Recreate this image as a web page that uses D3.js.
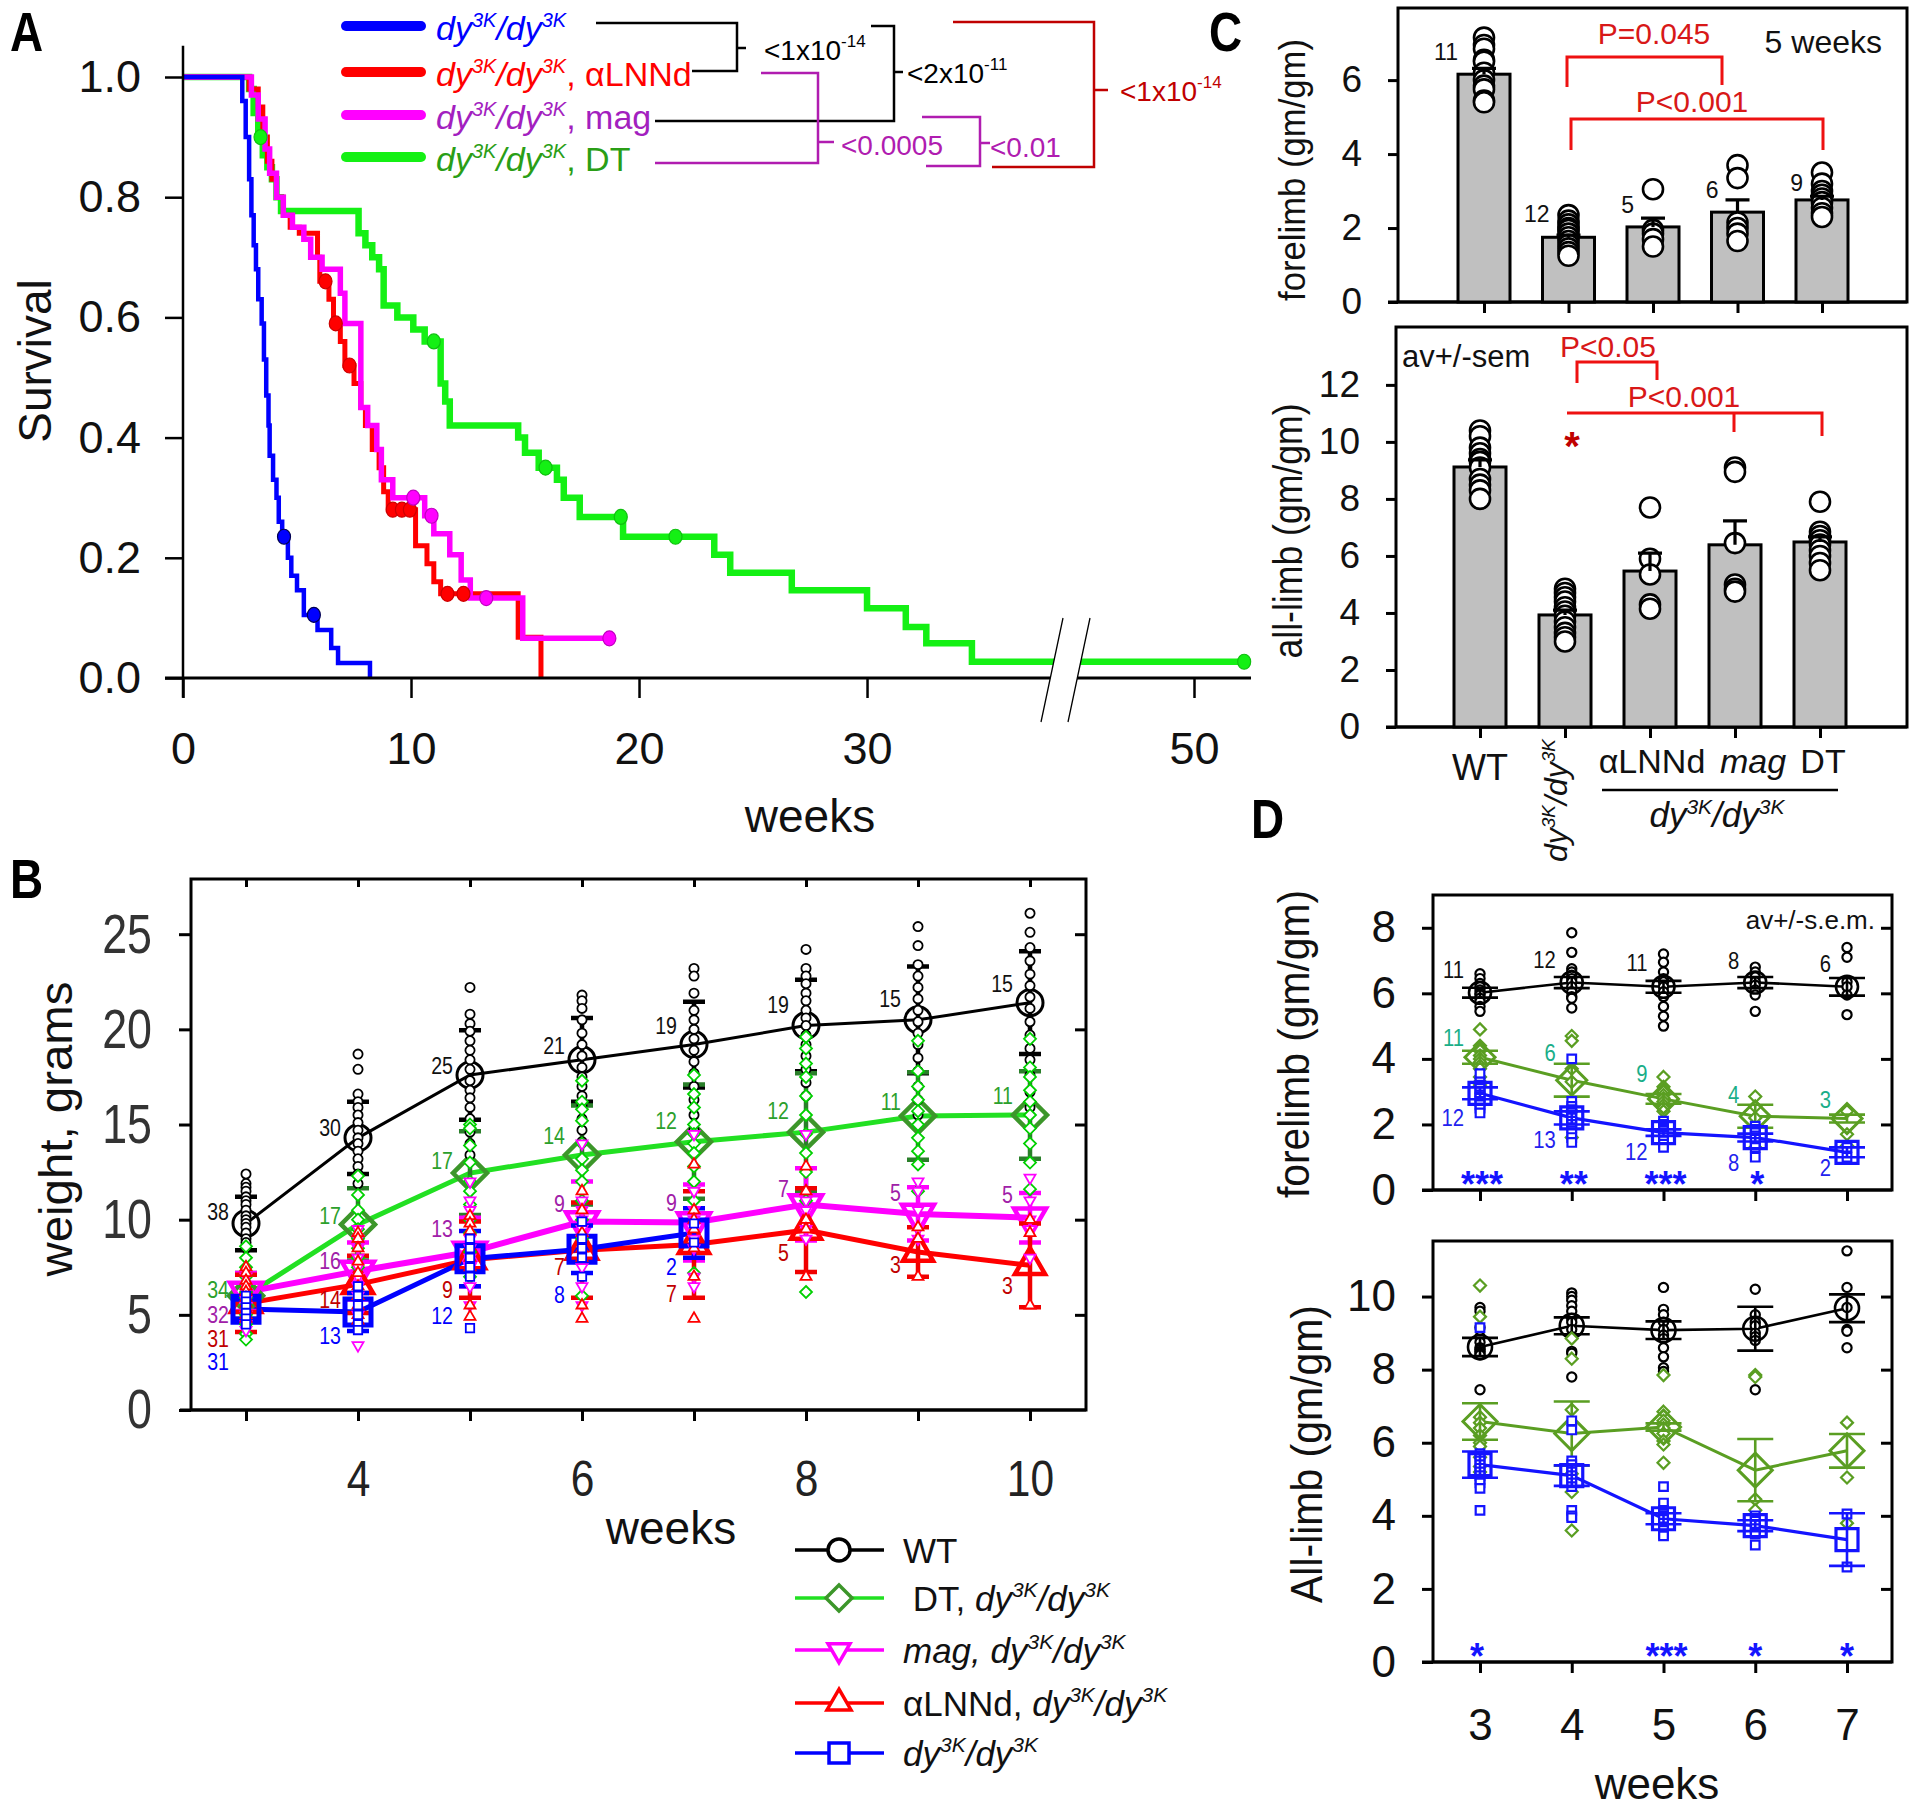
<!DOCTYPE html>
<html><head><meta charset="utf-8">
<script src="https://cdn.jsdelivr.net/npm/d3@7"></script>
<style>body{margin:0;background:#fff}svg{display:block}</style>
</head><body>
<svg id="fig" width="1915" height="1810"></svg>
<script>
// ================= DATA =================
// Panel A : Kaplan-Meier survival  [week, survival]
const survWeekTicks = [0, 10, 20, 30, 50];
const survTicks = [0, 0.2, 0.4, 0.6, 0.8, 1.0];
const survBlue = [[0,1],[2.6,0.96],[2.75,0.90],[2.9,0.83],[3.0,0.77],[3.1,0.72],[3.2,0.68],[3.3,0.63],[3.45,0.59],[3.55,0.53],[3.65,0.47],[3.75,0.42],[3.8,0.37],[3.95,0.33],[4.1,0.30],[4.2,0.26],[4.35,0.235],[4.6,0.20],[4.75,0.17],[5.0,0.146],[5.3,0.105],[5.9,0.08],[6.5,0.05],[6.8,0.025],[8.2,0]];
const survRed = [[0,1],[2.9,0.98],[3.3,0.95],[3.5,0.90],[3.7,0.86],[3.9,0.83],[4.1,0.80],[4.4,0.77],[4.7,0.75],[5.1,0.74],[5.9,0.70],[6.0,0.66],[6.4,0.63],[6.6,0.59],[6.9,0.56],[7.1,0.52],[7.5,0.49],[7.8,0.45],[8.0,0.42],[8.3,0.38],[8.6,0.35],[8.8,0.31],[9.0,0.28],[10.2,0.22],[10.7,0.19],[11.0,0.16],[11.3,0.14],[14.7,0.068],[15.7,0]];
const survMag = [[0,1],[3.0,0.97],[3.3,0.93],[3.6,0.88],[3.8,0.84],[4.1,0.80],[4.4,0.77],[4.8,0.75],[5.3,0.73],[5.6,0.70],[6.1,0.68],[6.9,0.64],[7.1,0.59],[7.8,0.45],[8.1,0.42],[8.5,0.38],[8.7,0.33],[9.2,0.30],[10.6,0.27],[11.0,0.24],[11.7,0.205],[12.2,0.163],[12.6,0.133],[14.9,0.066],[18.7,0.066]];
const survGreen = [[0,1],[2.9,0.98],[3.1,0.94],[3.3,0.90],[3.5,0.87],[3.7,0.85],[3.9,0.83],[4.1,0.80],[4.3,0.777],[7.7,0.74],[8.0,0.72],[8.3,0.70],[8.6,0.68],[8.8,0.62],[9.4,0.60],[10.1,0.58],[10.6,0.56],[11.3,0.49],[11.5,0.46],[11.7,0.42],[14.7,0.40],[15.0,0.375],[15.6,0.35],[16.4,0.33],[16.7,0.30],[17.4,0.268],[19.3,0.235],[23.3,0.205],[24.0,0.175],[26.7,0.146],[30.0,0.116],[31.7,0.085],[32.6,0.058],[34.6,0.027],[52.2,0.027]];
const censorBlue = [[4.43,0.235],[5.74,0.105]];
const censorRed = [[6.25,0.66],[6.7,0.59],[7.3,0.52],[9.2,0.28],[9.6,0.28],[9.95,0.28],[11.6,0.14],[12.3,0.14]];
const censorMag = [[10.1,0.30],[10.9,0.27],[13.3,0.133],[18.7,0.066]];
const censorGreen = [[3.4,0.90],[11.0,0.56],[15.9,0.35],[19.2,0.268],[21.6,0.235],[52.2,0.027]];

// Panel B : body weight (grams) by week
const bWeeks = [3,4,5,6,7,8,9,10];
const bYTicks = [0,5,10,15,20,25];
const wtMeanB = [9.8,14.3,17.6,18.4,19.2,20.2,20.5,21.4];
const wtSdB   = [1.4,1.9,2.35,2.2,2.25,2.4,2.8,2.7];
const wtNB    = [38,30,25,21,19,19,15,15];
const wtLabB  = [10.4,14.8,18.1,19.1,20.2,21.3,21.6,22.4];
const wtPtsB  = [[12.4,11.9,11.7,11.5,11.2,11.0,10.8,10.5,10.2,10.0,9.8,9.6,9.3,9.0,8.8,8.5],[18.7,17.9,16.6,16.2,15.9,15.5,15.1,14.7,14.3,14.0,13.6,13.2,12.8,12.4,11.9],[22.2,20.8,20.3,19.9,19.4,18.9,18.4,17.9,17.3,16.8,16.4,15.9,15.3,14.6,14.0,13.4],[21.8,21.5,21.1,20.5,19.8,19.2,18.6,18.0,17.5,17.0,16.5,16.0,15.3,14.7,14.1],[23.2,22.8,21.9,21.0,20.5,20.0,19.5,18.9,18.3,17.7,17.0,16.3,15.5,14.7],[24.2,23.2,22.8,22.4,21.9,21.5,21.0,20.6,20.2,19.7,19.2,18.6,17.9,17.2,16.5],[25.4,24.4,23.4,22.8,22.2,21.6,21.0,20.4,19.8,19.2,18.5,17.8,17.0,16.3,15.5],[26.1,25.1,24.3,23.6,22.9,22.3,21.7,21.1,20.4,19.7,19.0,18.4,17.6,16.7,15.9]];
const dtMeanB = [6.0,9.75,12.45,13.4,14.1,14.6,15.45,15.5];
const dtSdB   = [1.2,1.9,2.2,2.6,3.0,3.1,2.3,2.3];
const dtNB    = [34,17,17,14,12,12,11,11];
const dtLabB  = [6.3,10.2,13.1,14.4,15.2,15.7,16.2,16.5];
const dtPtsB  = [[8.6,8.0,7.5,7.0,6.5,6.2,5.9,5.5,5.0,4.5,4.0,3.7],[12.3,11.3,10.5,10.0,9.5,9.0,8.5,8.0,7.5],[15.0,14.8,13.9,13.0,12.0,11.5,10.8,10.0,9.3,8.3,7.0],[17.3,16.2,15.8,15.2,14.0,13.2,12.6,12.0,11.0,10.0,9.0,6.0],[17.6,16.6,15.9,15.0,14.5,14.0,13.5,12.8,12.0,11.0,7.2],[19.6,19.0,18.2,17.5,16.5,15.5,14.5,13.5,12.5,11.0,6.2],[19.4,17.8,17.0,16.3,15.7,15.0,14.3,13.6,12.9,11.5],[19.5,18.0,17.5,16.8,16.2,15.5,14.8,14.0,13.0,11.6]];
const magMeanB = [6.2,7.3,8.3,9.9,9.85,10.8,10.3,10.1];
const magSdB   = [1.0,1.5,1.8,2.1,2.0,1.9,1.4,1.3];
const magNB    = [32,16,13,9,9,7,5,5];
const magLabB  = [5.0,7.85,9.5,10.85,10.9,11.6,11.4,11.3];
const magPtsB  = [[7.0,6.5,6.2,5.8,5.0,4.5,4.2],[9.5,9.0,8.5,8.0,7.5,7.0,6.5,6.0,5.0,3.4],[12.0,11.0,10.5,10.0,9.0,8.5,8.0,7.5,6.5,5.5],[14.0,11.0,10.5,10.0,9.5,9.0,7.5,6.5,5.5],[14.5,11.5,10.5,10.0,9.0,8.5,7.0,6.5],[14.5,11.0,10.5,9.5,9.0],[12.0,11.5,10.5,9.5,9.0],[12.2,11.0,10.0,9.5,8.0]];
const lnMeanB = [5.6,6.6,7.9,8.4,8.7,9.45,8.3,7.6];
const lnSdB   = [1.5,1.5,2.0,2.5,2.8,2.2,1.3,2.2];
const lnNB    = [31,14,9,7,7,5,3,3];
const lnLabB  = [3.75,5.8,6.3,7.5,6.1,8.25,7.6,6.5];
const lnPtsB  = [[7.5,7.2,6.8,6.5,6.2,5.9,5.6,5.3,5.0,4.8],[9.3,9.0,8.5,7.8,7.2,6.5,6.0,5.5,5.0,4.7],[10.2,9.8,9.4,8.0,7.5,5.5,4.9],[11.5,10.5,9.3,8.5,8.0,5.5,4.8],[12.9,10.5,10.0,9.5,8.5,7.0,4.8],[12.8,11.5,10.0,9.5,7.0],[9.6,9.0,7.0],[10.0,9.3,5.5]];
const dyMeanB = [5.3,5.15,7.95,8.45,9.3];
const dySdB   = [0.5,1.0,1.45,1.25,1.3];
const dyNB    = [31,13,12,8,2];
const dyLabB  = [2.5,3.9,4.95,6.05,7.5];
const dyPtsB  = [[6.0,5.7,5.4,5.1,4.8,4.5],[6.5,6.0,5.5,5.0,4.5,4.2],[9.0,8.5,8.0,7.5,7.0,4.3],[9.9,9.0,8.5,8.0,7.0],[9.8,8.8]];

// Panel C : limb strength at 5 weeks
const cGroups = ["WT","dy","LNNd","mag","DT"];
const cForeTicks = [0,2,4,6];
const cAllTicks = [0,2,4,6,8,10,12];
const cForeMean = [6.16,1.75,2.03,2.43,2.76];
const cForeSem  = [0.16,0.06,0.24,0.33,0.10];
const cForeN    = [11,12,5,6,9];
const cForeNLab = [6.55,2.15,2.4,2.8,3.0];
const cForePts  = [[7.15,6.95,6.85,6.55,6.5,6.2,6.0,5.85,5.75,5.45,5.4],[2.35,2.2,2.1,2.0,1.95,1.85,1.75,1.65,1.55,1.45,1.35,1.25],[3.05,1.95,1.85,1.7,1.5],[3.7,3.35,2.15,2.0,1.85,1.65],[3.5,3.2,3.0,2.9,2.8,2.7,2.55,2.4,2.3]];
const cAllMean = [9.12,3.93,5.47,6.39,6.49];
const cAllSem  = [0.25,0.17,0.63,0.84,0.18];
const cAllPts  = [[10.4,10.2,9.8,9.6,9.4,9.3,9.1,8.7,8.5,8.3,8.0],[4.85,4.7,4.55,4.4,4.2,4.05,3.9,3.7,3.5,3.3,3.15,3.0],[7.7,5.9,5.35,4.3,4.15],[9.1,8.95,6.45,5.0,4.85,4.75],[7.9,6.85,6.7,6.55,6.4,6.2,6.0,5.75,5.5]];

// Panel D : limb strength by week
const dWeeks = [3,4,5,6,7];
const dForeTicks = [0,2,4,6,8];
const dAllTicks = [0,2,4,6,8,10];
const dForeWTMean = [6.02,6.33,6.2,6.33,6.2];
const dForeWTSem  = [0.15,0.17,0.18,0.17,0.27];
const dForeWTN    = [11,12,11,8,6];
const dForeWTLab  = [6.72,7.02,6.93,6.99,6.9];
const dForeWTPts  = [[6.6,6.45,6.3,6.2,6.1,6.0,5.95,5.85,5.75,5.6,5.45],[7.85,7.25,6.75,6.65,6.55,6.45,6.35,6.2,6.05,5.9,5.85,5.55],[7.2,6.95,6.65,6.45,6.35,6.2,6.05,5.9,5.6,5.3,5.0],[6.8,6.65,6.5,6.35,6.25,6.1,5.95,5.45],[7.4,7.1,6.35,6.2,5.95,5.35]];
const dForeDTMean = [4.05,3.35,2.78,2.25,2.18];
const dForeDTSem  = [0.2,0.5,0.15,0.35,0.12];
const dForeDTN    = [11,6,9,4,3];
const dForeDTLab  = [4.64,4.18,3.54,2.9,2.75];
const dForeDTPts  = [[4.9,4.4,4.25,4.1,4.0,3.9,3.8,3.7,3.45,3.3,3.2],[4.7,4.55,3.7,3.3,2.4,1.6],[3.45,3.15,3.0,2.9,2.8,2.7,2.6,2.5,2.4],[2.85,2.55,2.2,1.3],[2.4,1.7,1.35]];
const dForeDyMean = [2.95,2.2,1.75,1.6,1.15];
const dForeDySem  = [0.18,0.2,0.1,0.12,0.15];
const dForeDyN    = [12,13,12,8,2];
const dForeDyLab  = [2.2,1.53,1.16,0.82,0.67];
const dForeDyPts  = [[3.55,3.3,3.2,3.1,3.0,2.9,2.85,2.8,2.7,2.6,2.5,2.35],[4.0,2.7,2.55,2.45,2.35,2.25,2.2,2.1,2.0,1.9,1.8,1.6,1.45],[2.1,2.0,1.95,1.9,1.85,1.8,1.7,1.65,1.6,1.5,1.4,1.3],[1.95,1.85,1.75,1.65,1.55,1.45,1.3,1.0],[1.3,1.0]];
const dForeStars  = ["***","**","***","*",""];
const dAllWTMean = [8.62,9.2,9.08,9.12,9.68];
const dAllWTSem  = [0.25,0.23,0.24,0.6,0.38];
const dAllWTPts  = [[9.7,9.6,9.15,8.9,8.75,8.6,8.55,8.5,8.45,8.4,7.45],[10.1,10.0,9.9,9.75,9.6,9.4,9.3,9.1,8.9,8.5,8.45,7.8],[10.25,9.65,9.5,9.3,9.1,8.95,8.85,8.6,8.35,8.05,7.95],[10.2,9.5,9.3,9.2,9.0,8.9,8.8,7.45],[11.25,10.25,9.7,9.1,9.05,8.6]];
const dAllDTMean = [6.58,6.25,6.43,5.25,5.78];
const dAllDTSem  = [0.5,0.88,0.1,0.85,0.46];
const dAllDTPts  = [[10.3,9.45,6.7,6.55,6.4,6.2,6.0,5.9,5.6,5.35,5.2],[8.85,8.3,6.9,5.15,4.65,3.6],[7.85,6.85,6.6,6.5,6.4,6.25,6.05,5.95,5.45],[7.85,7.8,4.45,4.15],[6.55,5.05,3.8]];
const dAllDyMean = [5.4,5.1,3.92,3.73,3.35];
const dAllDySem  = [0.36,0.28,0.15,0.15,0.72];
const dAllDyPts  = [[9.15,5.7,5.6,5.5,5.4,5.3,5.2,5.1,5.0,4.9,4.75,4.15],[6.6,6.35,5.5,5.4,5.3,5.2,5.1,5.0,4.9,4.8,4.15,4.0,3.95],[4.8,4.35,4.15,4.05,4.0,3.95,3.9,3.8,3.7,3.6,3.5,3.45],[4.0,3.9,3.85,3.75,3.65,3.55,3.5,3.2],[4.05,2.6]];
const dAllStars  = ["*","","***","*","*"];

// ================= HELPERS =================
const FONT = "'Liberation Sans', Arial, Helvetica, sans-serif";
const svg = d3.select("#fig").attr("font-family", FONT);
svg.append("rect").attr("width",1915).attr("height",1810).attr("fill","#fff");

function narrow(sel, f){
  sel.each(function(){
    const w = this.getComputedTextLength();
    if (w > 0) d3.select(this).attr("textLength", w*f).attr("lengthAdjust","spacingAndGlyphs");
  });
  return sel;
}
function styleAxis(g, fs, sw){
  g.attr("font-family", FONT).attr("font-size", fs);
  g.selectAll(".domain").remove();
  g.selectAll(".tick line").attr("stroke","#000").attr("stroke-width", sw||2.5);
  g.selectAll(".tick text").attr("fill","#111");
}
function rich(parent, x, y, parts, o){
  o = o || {};
  const fs = o.fs || 30, sup = o.sup || Math.round(fs*0.6), raise = o.raise || fs*0.38;
  const t = parent.append("text").attr("x", x).attr("y", y).attr("font-size", fs)
    .attr("fill", o.fill || "#000").attr("text-anchor", o.anchor || "start");
  if (o.transform) t.attr("transform", o.transform);
  let cur = 0;
  parts.forEach(p => {
    const s = t.append("tspan").text(p.t);
    const target = p.s ? -raise : 0;
    if (target !== cur) s.attr("dy", target - cur);
    cur = target;
    if (p.s) s.attr("font-size", sup);
    if (p.i) s.attr("font-style", "italic");
  });
  return t;
}
const DY = [{t:"dy",i:1},{t:"3K",i:1,s:1},{t:"/dy",i:1},{t:"3K",i:1,s:1}];
function shapePath(type, s){
  switch(type){
    case "circle": return `M${s},0A${s},${s} 0 1,1 ${-s},0A${s},${s} 0 1,1 ${s},0Z`;
    case "diamond": return `M0,${-s}L${s},0L0,${s}L${-s},0Z`;
    case "square": return `M${-s},${-s}H${s}V${s}H${-s}Z`;
    case "triup": { const h=s*1.732; return `M0,${-2*h/3}L${s},${h/3}L${-s},${h/3}Z`; }
    case "tridown": { const h=s*1.732; return `M0,${2*h/3}L${s},${-h/3}L${-s},${-h/3}Z`; }
  }
}
function panelLabel(x, y, t){
  svg.append("text").attr("x",x).attr("y",y).attr("font-size",56).attr("font-weight","bold")
    .attr("transform",`translate(${x},0) scale(0.82,1) translate(${-x},0)`).text(t);
}
function rotLabel(x, y, txt, fs, len){
  svg.append("text").attr("transform",`translate(${x},${y}) rotate(-90)`)
    .attr("text-anchor","middle").attr("font-size",fs).attr("fill","#111")
    .attr("textLength", len).attr("lengthAdjust","spacingAndGlyphs").text(txt);
}

// ================= PANEL A =================
const gA = svg.append("g");
const xA = d3.scaleLinear().domain([0,38.2,45,52.5]).range([183,1054,1080,1251]);
const yA = d3.scaleLinear().domain([0,1]).range([678,77]);
const lineA = d3.line().x(d=>xA(d[0])).y(d=>yA(d[1])).curve(d3.curveStepAfter);
const survSeries = [
  {d: survGreen, c:"#14f014", w:6.5, cens: censorGreen, sc:"#10c010"},
  {d: survRed,   c:"#ff0000", w:5,   cens: censorRed,   sc:"#cc0000"},
  {d: survMag,   c:"#ff00ff", w:5.5, cens: censorMag,   sc:"#c000c0"},
  {d: survBlue,  c:"#0000ff", w:4.5, cens: censorBlue,  sc:"#000050"}
];
survSeries.forEach(s => gA.append("path").attr("d", lineA(s.d)).attr("fill","none")
  .attr("stroke", s.c).attr("stroke-width", s.w));
survSeries.forEach(s => gA.selectAll(null).data(s.cens).enter().append("ellipse")
  .attr("cx", d=>xA(d[0])).attr("cy", d=>yA(d[1])).attr("rx",6.5).attr("ry",7.5)
  .attr("fill", s.c).attr("stroke", s.sc).attr("stroke-width",1.2));
gA.append("line").attr("x1",xA(0)).attr("x2",xA(0)).attr("y1",yA(1.052)).attr("y2",yA(-0.033))
  .attr("stroke","#000").attr("stroke-width",2.5);
gA.append("line").attr("x1",xA(0)-18).attr("x2",xA(52.5)).attr("y1",yA(0)).attr("y2",yA(0))
  .attr("stroke","#000").attr("stroke-width",3);
gA.append("g").attr("transform",`translate(${xA(0)},0)`)
  .call(d3.axisLeft(yA).tickValues(survTicks).tickFormat(d3.format(".1f")).tickSize(18).tickPadding(24))
  .call(g=>styleAxis(g,45,2.5));
gA.append("g").attr("transform",`translate(0,${yA(0)})`)
  .call(d3.axisBottom(xA).tickValues(survWeekTicks).tickFormat(d3.format("d")).tickSize(20).tickPadding(34))
  .call(g=>styleAxis(g,45,2.5));
gA.append("path").attr("d","M1041,722L1063,618L1090,618L1068,722Z").attr("fill","#fff");
gA.append("path").attr("d","M1041,722L1063,618M1068,722L1090,618").attr("stroke","#000").attr("stroke-width",1.3);
svg.append("text").attr("x",810).attr("y",832).attr("text-anchor","middle").attr("font-size",46).attr("fill","#111").text("weeks");
svg.append("text").attr("transform","translate(51,361) rotate(-90)").attr("text-anchor","middle")
  .attr("font-size",46).attr("fill","#111").text("Survival");
const legA = [
  {y:26, c:"#0000ff", tc:"#0000ff", extra:[]},
  {y:72, c:"#ff0000", tc:"#ff0000", extra:[{t:", \u03b1LNNd"}]},
  {y:115, c:"#ff00ff", tc:"#a31fbf", extra:[{t:", mag"}]},
  {y:157, c:"#14f014", tc:"#2a9e16", extra:[{t:", DT"}]}
];
legA.forEach(l => {
  gA.append("line").attr("x1",346).attr("x2",421).attr("y1",l.y).attr("y2",l.y)
    .attr("stroke",l.c).attr("stroke-width",10).attr("stroke-linecap","round");
  rich(gA, 436, l.y+14, DY.concat(l.extra), {fs:34, sup:20, raise:13, fill:l.tc});
});
function br(d, c){ gA.append("path").attr("d",d).attr("fill","none").attr("stroke",c).attr("stroke-width",2.5); }
br("M596,23H737V71H692M737,48H746","#000");
rich(gA, 764, 60, [{t:"<1x10"},{t:"-14",s:1}], {fs:28, sup:17, raise:13, fill:"#000"});
br("M871,26H894V121H655M894,72H903","#000");
rich(gA, 907, 83, [{t:"<2x10"},{t:"-11",s:1}], {fs:28, sup:17, raise:13, fill:"#000"});
br("M761,73H818V163H655M818,142H834","#b01cb0");
rich(gA, 841, 155, [{t:"<0.0005"}], {fs:28, fill:"#b01cb0"});
br("M922,117H980V166H926M980,143H990","#b01cb0");
rich(gA, 990, 157, [{t:"<0.01"}], {fs:28, fill:"#b01cb0"});
br("M953,22H1094V167H992M1094,90H1108","#c00000");
rich(gA, 1120, 101, [{t:"<1x10"},{t:"-14",s:1}], {fs:28, sup:17, raise:13, fill:"#c00000"});
panelLabel(10, 51, "A");

// ================= PANEL B =================
const gB = svg.append("g");
const xB = d3.scaleLinear().domain([3,10]).range([246,1030]);
const yB = d3.scaleLinear().domain([0,27.9]).range([1410,879]);
const fB = {l:191, r:1086, t:879, b:1410};
gB.append("rect").attr("x",fB.l).attr("y",fB.t).attr("width",fB.r-fB.l).attr("height",fB.b-fB.t)
  .attr("fill","none").attr("stroke","#000").attr("stroke-width",3);
gB.append("line").attr("x1",fB.l-11).attr("x2",fB.r).attr("y1",fB.b).attr("y2",fB.b).attr("stroke","#000").attr("stroke-width",3);
gB.append("g").attr("transform",`translate(${fB.l},0)`)
  .call(d3.axisLeft(yB).tickValues(bYTicks).tickSize(12).tickPadding(27))
  .call(g=>styleAxis(g,56,3)).call(g=>g.selectAll(".tick text").attr("fill","#333").call(s=>narrow(s,0.8)));
gB.append("g").attr("transform",`translate(${fB.r},0)`)
  .call(d3.axisLeft(yB).tickValues(bYTicks.slice(1)).tickSize(11).tickFormat(""))
  .call(g=>styleAxis(g,10,3));
gB.append("g").attr("transform",`translate(0,${fB.t})`)
  .call(d3.axisBottom(xB).tickValues(bWeeks).tickSize(8).tickFormat(""))
  .call(g=>styleAxis(g,10,3));
gB.append("g").attr("transform",`translate(0,${fB.b})`)
  .call(d3.axisBottom(xB).tickValues(bWeeks).tickSize(11).tickPadding(39).tickFormat(d=>d%2?"":d))
  .call(g=>styleAxis(g,50,3)).call(g=>g.selectAll(".tick text").attr("fill","#222").call(s=>narrow(s,0.85)));
rotLabel(72, 1129, "weight, grams", 46, 295);
svg.append("text").attr("x",671).attr("y",1544).attr("text-anchor","middle").attr("font-size",46).attr("fill","#111").text("weeks");

const seriesB = [
  {mean:wtMeanB, sd:wtSdB, n:wtNB, lab:wtLabB, pts:wtPtsB, lc:"#000", lw:3, mk:"circle", ms:13, mc:"#000", msw:3, ec:"#000", dk:"circle", ds:4.6, dc:"#000", nc:"#111"},
  {mean:dtMeanB, sd:dtSdB, n:dtNB, lab:dtLabB, pts:dtPtsB, lc:"#22e022", lw:5, mk:"diamond", ms:17, mc:"#3c962a", msw:4.5, ec:"#2a7f2a", dk:"diamond", ds:6, dc:"#00d000", nc:"#2ca02c"},
  {mean:magMeanB, sd:magSdB, n:magNB, lab:magLabB, pts:magPtsB, lc:"#ff00ff", lw:6, mk:"tridown", ms:16, mc:"#ff00ff", msw:4.5, ec:"#ff00ff", dk:"tridown", ds:5.5, dc:"#ff00ff", nc:"#a020a8"},
  {mean:lnMeanB, sd:lnSdB, n:lnNB, lab:lnLabB, pts:lnPtsB, lc:"#ff0000", lw:5, mk:"triup", ms:15, mc:"#ff0000", msw:4.5, ec:"#f00000", dk:"triup", ds:5.5, dc:"#ff0000", nc:"#c00000"},
  {mean:dyMeanB, sd:dySdB, n:dyNB, lab:dyLabB, pts:dyPtsB, lc:"#0000ff", lw:5, mk:"square", ms:13, mc:"#0000ff", msw:5, ec:"#0000ff", dk:"square", ds:4.2, dc:"#0000ff", nc:"#0000ff"}
];
const lineB = d3.line().x(d=>xB(d.w)).y(d=>yB(d.m));
seriesB.forEach(s => {
  s.rows = s.mean.map((m,i)=>({w:bWeeks[i], m, sd:s.sd[i], n:s.n[i], lab:s.lab[i], pts:s.pts[i]}));
  gB.append("path").attr("d", lineB(s.rows)).attr("fill","none").attr("stroke", s.lc).attr("stroke-width", s.lw);
});
seriesB.forEach(s => {
  const g = gB.append("g");
  s.rows.forEach(r => {
    const x = xB(r.w);
    g.append("path").attr("d",`M${x},${yB(r.m-r.sd)}V${yB(r.m+r.sd)}M${x-11},${yB(r.m-r.sd)}h22M${x-11},${yB(r.m+r.sd)}h22`)
      .attr("stroke", s.ec).attr("stroke-width",4.5).attr("fill","none");
    g.append("path").attr("d", shapePath(s.mk, s.ms)).attr("transform",`translate(${x},${yB(r.m)})`)
      .attr("fill","none").attr("stroke", s.mc).attr("stroke-width", s.msw);
  });
});
seriesB.forEach(s => {
  s.rows.forEach(r => {
    gB.selectAll(null).data(r.pts).enter().append("path").attr("d", shapePath(s.dk, s.ds))
      .attr("transform", v=>`translate(${xB(r.w)},${yB(v)})`).attr("fill","#fff").attr("stroke", s.dc).attr("stroke-width",1.8);
  });
});
seriesB.forEach(s => {
  s.rows.forEach(r => {
    narrow(gB.append("text").attr("x", xB(r.w)-17).attr("y", yB(r.lab)+8).attr("text-anchor","end")
      .attr("font-size",23).attr("fill", s.nc).text(r.n), 0.85);
  });
});
const legB = [
  {y:1550, lc:"#000", mk:"circle", s:11, mc:"#000", parts:[{t:"WT"}]},
  {y:1598, lc:"#22e022", mk:"diamond", s:13, mc:"#3c962a", parts:[{t:"\u00a0DT, "}].concat(DY)},
  {y:1650, lc:"#ff00ff", mk:"tridown", s:11, mc:"#ff00ff", parts:[{t:"mag, ",i:1}].concat(DY)},
  {y:1703, lc:"#ff0000", mk:"triup", s:12, mc:"#ff0000", parts:[{t:"\u03b1LNNd, "}].concat(DY)},
  {y:1753, lc:"#0000ff", mk:"square", s:10, mc:"#0000ff", parts:DY}
];
legB.forEach(l => {
  svg.append("line").attr("x1",795).attr("x2",884).attr("y1",l.y).attr("y2",l.y).attr("stroke",l.lc).attr("stroke-width",3.5);
  svg.append("path").attr("d",shapePath(l.mk,l.s)).attr("transform",`translate(839,${l.y})`)
    .attr("fill","#fff").attr("stroke",l.mc).attr("stroke-width",3.5);
  rich(svg, 903, l.y+13, l.parts, {fs:35, sup:21, raise:14, fill:"#111"});
});
panelLabel(10, 898, "B");

// ================= PANEL C =================
const gC = svg.append("g");
const xCt = d3.scalePoint().domain(cGroups).range([1484,1822]);
const xCb = d3.scalePoint().domain(cGroups).range([1480,1820]);
const yCt = d3.scaleLinear().domain([0,7.95]).range([302,8]);
const yCb = d3.scaleLinear().domain([0,14.03]).range([727,327]);
function barPanel(xS, yS, means, sems, pts, frame, ticks){
  const g = gC.append("g");
  g.append("rect").attr("x",frame.l).attr("y",frame.t).attr("width",frame.r-frame.l).attr("height",frame.b-frame.t)
    .attr("fill","none").attr("stroke","#000").attr("stroke-width",3);
  g.append("line").attr("x1",frame.l-10).attr("x2",frame.r).attr("y1",frame.b).attr("y2",frame.b).attr("stroke","#000").attr("stroke-width",3);
  g.append("g").attr("transform",`translate(${frame.l},0)`)
    .call(d3.axisLeft(yS).tickValues(ticks).tickSize(10).tickPadding(26)).call(gg=>styleAxis(gg,37,3));
  g.append("g").attr("transform",`translate(0,${frame.b})`)
    .call(d3.axisBottom(xS).tickSize(11).tickFormat("")).call(gg=>styleAxis(gg,10,3));
  cGroups.forEach((k,i) => {
    const x = xS(k);
    g.append("rect").attr("x",x-26).attr("width",52).attr("y",yS(means[i])).attr("height",yS(0)-yS(means[i]))
      .attr("fill","#c0c0c0").attr("stroke","#000").attr("stroke-width",3);
    g.selectAll(null).data(pts[i]).enter().append("circle").attr("cx",x).attr("cy",d=>yS(d)).attr("r",10)
      .attr("fill","#fff").attr("stroke","#000").attr("stroke-width",2.6);
    const yt = yS(means[i]+sems[i]);
    g.append("path").attr("d",`M${x},${yS(means[i])}V${yt}M${x-12},${yt}h24`).attr("stroke","#000").attr("stroke-width",3.2);
  });
}
barPanel(xCt, yCt, cForeMean, cForeSem, cForePts, {l:1398,r:1907,t:8,b:302}, cForeTicks);
barPanel(xCb, yCb, cAllMean, cAllSem, cAllPts, {l:1396,r:1907,t:327,b:727}, cAllTicks);
cGroups.forEach((k,i) => {
  gC.append("text").attr("x", xCt(k)-(i===0?26:19)).attr("y", yCt(cForeNLab[i])).attr("text-anchor","end")
    .attr("font-size",23).attr("fill","#111").text(cForeN[i]);
});
gC.append("text").attr("x",1882).attr("y",53).attr("text-anchor","end").attr("font-size",32).attr("fill","#111").text("5 weeks");
const RED = "#ee1111";
function cbr(d){ gC.append("path").attr("d",d).attr("fill","none").attr("stroke",RED).attr("stroke-width",3); }
cbr("M1567,87V57H1722V85");
gC.append("text").attr("x",1654).attr("y",44).attr("text-anchor","middle").attr("font-size",30).attr("fill","#d81818").text("P=0.045");
cbr("M1571,150V119H1823V150");
gC.append("text").attr("x",1692).attr("y",112).attr("text-anchor","middle").attr("font-size",30).attr("fill","#d81818").text("P<0.001");
gC.append("text").attr("x",1402).attr("y",367).attr("font-size",31).attr("fill","#111").text("av+/-sem");
cbr("M1577,383V362H1657V380");
gC.append("text").attr("x",1608).attr("y",357).attr("text-anchor","middle").attr("font-size",30).attr("fill","#d81818").text("P<0.05");
cbr("M1567,413H1822V436M1734,413V432");
gC.append("text").attr("x",1684).attr("y",407).attr("text-anchor","middle").attr("font-size",30).attr("fill","#d81818").text("P<0.001");
gC.append("text").attr("x",1572).attr("y",460).attr("text-anchor","middle").attr("font-size",40).attr("font-weight","bold").attr("fill","#c00000").text("*");
gC.append("text").attr("x",xCb("WT")).attr("y",780).attr("text-anchor","middle").attr("font-size",36).attr("fill","#111").text("WT");
rich(gC, 0, 0, DY, {fs:32, sup:19, raise:12, fill:"#111", transform:`translate(${xCb("dy")+2},862) rotate(-90)`});
gC.append("text").attr("x",xCb("LNNd")+2).attr("y",773).attr("text-anchor","middle").attr("font-size",34).attr("fill","#111").text("\u03b1LNNd");
gC.append("text").attr("x",xCb("mag")+18).attr("y",773).attr("text-anchor","middle").attr("font-size",34).attr("font-style","italic").attr("fill","#111").text("mag");
gC.append("text").attr("x",xCb("DT")+3).attr("y",773).attr("text-anchor","middle").attr("font-size",34).attr("fill","#111").text("DT");
gC.append("line").attr("x1",1602).attr("x2",1838).attr("y1",790).attr("y2",790).attr("stroke","#000").attr("stroke-width",2.5);
rich(gC, 1717, 827, DY, {fs:35, sup:21, raise:13, fill:"#111", anchor:"middle"});
rotLabel(1305, 170, "forelimb (gm/gm)", 37, 262);
rotLabel(1302, 531, "all-limb (gm/gm)", 40, 255);
panelLabel(1209, 51, "C");

// ================= PANEL D =================
const gD = svg.append("g");
const xD = d3.scaleLinear().domain([3,7]).range([1480,1847]);
const yDt = d3.scaleLinear().domain([0,9]).range([1190,895]);
const yDb = d3.scaleLinear().domain([0,11.52]).range([1662,1241]);
function dFrame(yS, frame, ticks, labels){
  const g = gD.append("g");
  g.append("rect").attr("x",frame.l).attr("y",frame.t).attr("width",frame.r-frame.l).attr("height",frame.b-frame.t)
    .attr("fill","none").attr("stroke","#000").attr("stroke-width",3);
  g.append("line").attr("x1",frame.l-11).attr("x2",frame.r).attr("y1",frame.b).attr("y2",frame.b).attr("stroke","#000").attr("stroke-width",3);
  g.append("g").attr("transform",`translate(${frame.l},0)`)
    .call(d3.axisLeft(yS).tickValues(ticks).tickSize(11).tickPadding(26)).call(gg=>styleAxis(gg,44,3));
  g.append("g").attr("transform",`translate(${frame.r},0)`)
    .call(d3.axisLeft(yS).tickValues(ticks.slice(1)).tickSize(11).tickFormat("")).call(gg=>styleAxis(gg,10,3));
  g.append("g").attr("transform",`translate(0,${frame.b})`)
    .call(d3.axisBottom(xD).tickValues(dWeeks).tickSize(11).tickPadding(36).tickFormat(labels?d3.format("d"):""))
    .call(gg=>styleAxis(gg,44,3));
}
dFrame(yDt, {l:1433,r:1892,t:895,b:1190}, dForeTicks, false);
dFrame(yDb, {l:1433,r:1892,t:1241,b:1662}, dAllTicks, true);
function dSeries(yS, mean, sem, pts, o){
  const g = gD.append("g");
  const rows = mean.map((m,i)=>({w:dWeeks[i], m, e:sem[i], pts:pts[i]}));
  g.append("path").attr("d", d3.line().x(d=>xD(d.w)).y(d=>yS(d.m))(rows)).attr("fill","none")
    .attr("stroke",o.c).attr("stroke-width",o.lw);
  rows.forEach(r => {
    const x = xD(r.w);
    g.selectAll(null).data(r.pts).enter().append("path").attr("d", shapePath(o.dk, o.ds))
      .attr("transform", v=>`translate(${x},${yS(v)})`).attr("fill","#fff").attr("stroke",o.c).attr("stroke-width",2.2);
    g.append("path").attr("d", shapePath(o.mk, o.ms)).attr("transform",`translate(${x},${yS(r.m)})`)
      .attr("fill","none").attr("stroke",o.c).attr("stroke-width",o.msw);
    const y1 = yS(r.m-r.e), y2 = yS(r.m+r.e);
    g.append("path").attr("d",`M${x},${y1}V${y2}M${x-18},${y1}h36M${x-18},${y2}h36`).attr("stroke",o.c).attr("stroke-width",2.6).attr("fill","none");
  });
}
const GRN = "#5a9e22", BLU = "#1414ff";
dSeries(yDt, dForeWTMean, dForeWTSem, dForeWTPts, {c:"#000", lw:2.6, mk:"circle", ms:11, msw:2.6, dk:"circle", ds:4.6});
dSeries(yDt, dForeDTMean, dForeDTSem, dForeDTPts, {c:GRN, lw:3, mk:"diamond", ms:15, msw:3, dk:"diamond", ds:6});
dSeries(yDt, dForeDyMean, dForeDySem, dForeDyPts, {c:BLU, lw:3.2, mk:"square", ms:11, msw:3.2, dk:"square", ds:4.3});
dSeries(yDb, dAllWTMean, dAllWTSem, dAllWTPts, {c:"#000", lw:2.6, mk:"circle", ms:12, msw:2.6, dk:"circle", ds:4.6});
dSeries(yDb, dAllDTMean, dAllDTSem, dAllDTPts, {c:GRN, lw:3, mk:"diamond", ms:17, msw:3, dk:"diamond", ds:6});
dSeries(yDb, dAllDyMean, dAllDySem, dAllDyPts, {c:BLU, lw:3.2, mk:"square", ms:11, msw:3.2, dk:"square", ds:4.3});
function dLabels(vals, ns, color){
  dWeeks.forEach((w,i) => narrow(gD.append("text").attr("x", xD(w)-16).attr("y", yDt(vals[i])+8).attr("text-anchor","end")
    .attr("font-size",23).attr("fill",color).text(ns[i]), 0.88));
}
dLabels(dForeWTLab, dForeWTN, "#111");
dLabels(dForeDTLab, dForeDTN, "#1aae88");
dLabels(dForeDyLab, dForeDyN, "#2222ee");
dWeeks.forEach((w,i) => {
  gD.append("text").attr("x",xD(w)+2).attr("y",1197).attr("text-anchor","middle").attr("font-size",36).attr("font-weight","bold").attr("fill",BLU).text(dForeStars[i]);
  gD.append("text").attr("x",xD(w)+(i===0?-3:i===2?3:0)).attr("y",1669).attr("text-anchor","middle").attr("font-size",36).attr("font-weight","bold").attr("fill",BLU).text(dAllStars[i]);
});
gD.append("text").attr("x",1875).attr("y",929).attr("text-anchor","end").attr("font-size",26).attr("fill","#111").text("av+/-s.e.m.");
rotLabel(1309, 1044, "forelimb (gm/gm)", 44, 308);
rotLabel(1322, 1454, "All-limb (gm/gm)", 44, 298);
svg.append("text").attr("x",1657).attr("y",1799).attr("text-anchor","middle").attr("font-size",44).attr("fill","#111").text("weeks");
panelLabel(1251, 838, "D");
</script>
</body></html>
